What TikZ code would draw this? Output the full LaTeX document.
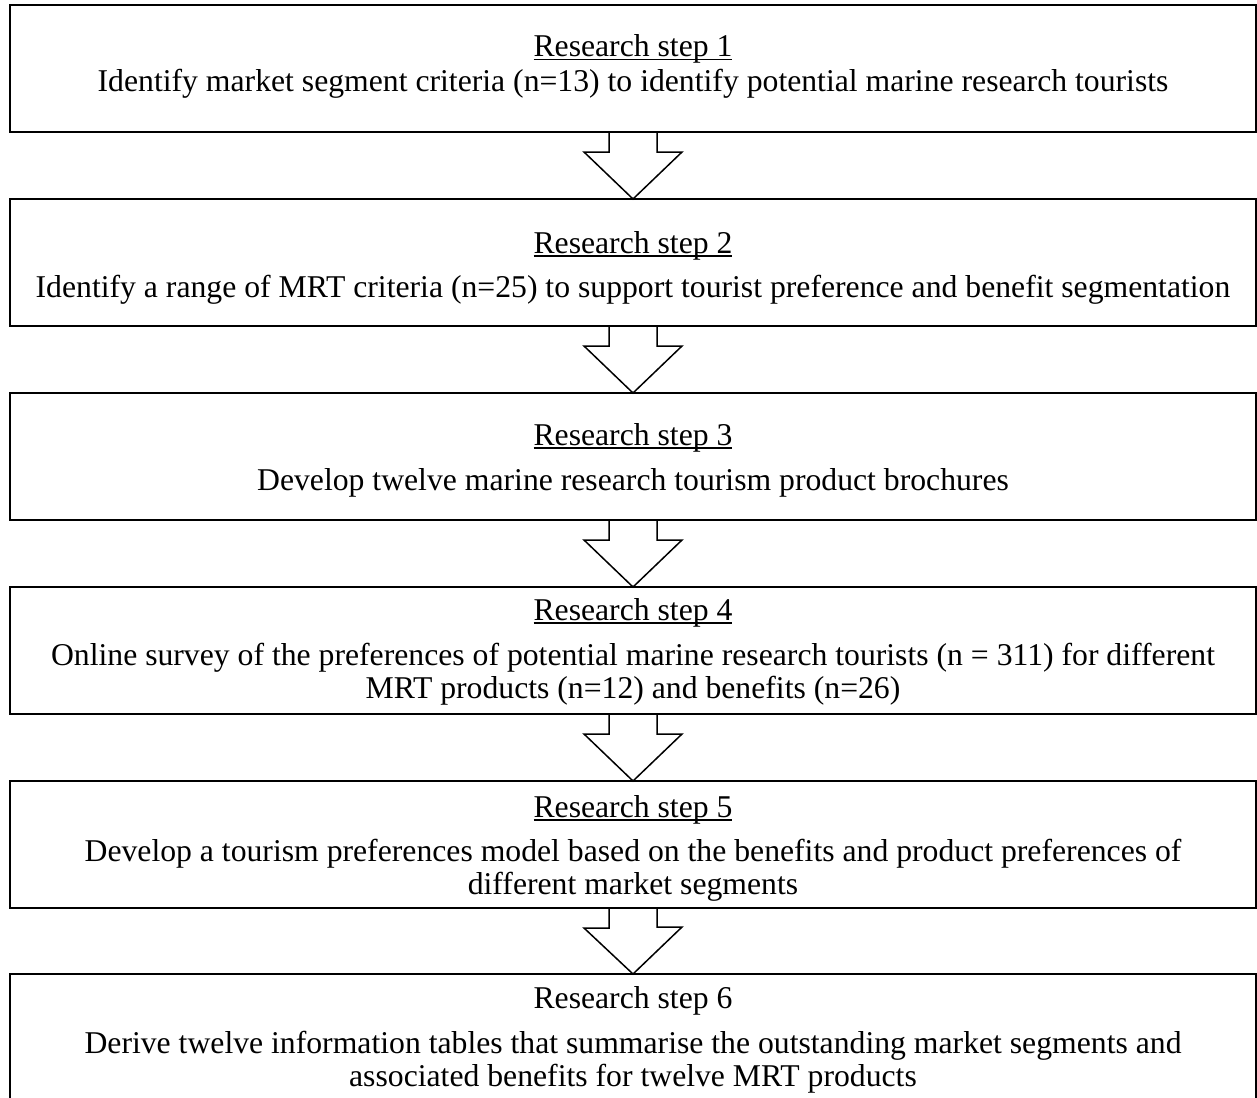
\documentclass[tikz,border=0pt]{standalone}
\usepackage{fontspec}
\setmainfont{Liberation Serif}
\newsavebox\headbox
\newcommand\headul[1]{\sbox\headbox{#1}\rlap{\rule[-3.5pt]{\wd\headbox}{1.4pt}}\usebox\headbox}
\tikzset{
  stepbox/.style={draw, line width=2pt, minimum width=1246pt, minimum height=127pt, inner sep=0pt, outer sep=0pt},
  steptext/.style={anchor=base, align=center, inner sep=0pt, font=\fontsize{31.7}{32.5}\selectfont},
  blockarrow/.style={line width=1.5pt, line join=miter}
}
\begin{document}
\begin{tikzpicture}[x=1pt,y=-1pt]
  \useasboundingbox (0,0) rectangle (1257,1097);
  % Step boxes
  \node[stepbox] (b1) at (633,68.5) {};
  \node[stepbox] (b2) at (633,262.5) {};
  \node[stepbox] (b3) at (633,456.5) {};
  \node[stepbox] (b4) at (633,650.5) {};
  \node[stepbox] (b5) at (633,844.5) {};
  \node[stepbox] (b6) at (633,1037.5) {};
  % Headings
  \node[steptext] (h1) at (633,57) {\headul{Research step 1}};
  \node[steptext] (h2) at (633,253) {\headul{Research step 2}};
  \node[steptext] (h3) at (633,445) {\headul{Research step 3}};
  \node[steptext] (h4) at (633,620) {\headul{Research step 4}};
  \node[steptext] (h5) at (633,817) {\headul{Research step 5}};
  \node[steptext] (h6) at (633,1008) {Research step 6};
  % Descriptions (base = last line)
  \node[steptext] (t1) at (633,92) {Identify market segment criteria (n=13) to identify potential marine research tourists};
  \node[steptext] (t2) at (633,297) {Identify a range of MRT criteria (n=25) to support tourist preference and benefit segmentation};
  \node[steptext] (t3) at (633,490) {Develop twelve marine research tourism product brochures};
  \node[steptext] (t4) at (633,698) {Online survey of the preferences of potential marine research tourists (n = 311) for different\\ MRT products (n=12) and benefits (n=26)};
  \node[steptext] (t5) at (633,894) {Develop a tourism preferences model based on the benefits and product preferences of\\ different market segments};
  \node[steptext] (t6) at (633,1086) {Derive twelve information tables that summarise the outstanding market segments and\\ associated benefits for twelve MRT products};
  % Block arrows
  \foreach \a/\b in {b1/b2,b2/b3,b3/b4,b4/b5,b5/b6}
    \draw[blockarrow] ([xshift=-24pt]\a.south) -- ++(0,20) -- ++(-25,0) -- (\b.north)
      -- ++(49,-47) -- ++(-25,0) -- ([xshift=24pt]\a.south);
\end{tikzpicture}
\end{document}
